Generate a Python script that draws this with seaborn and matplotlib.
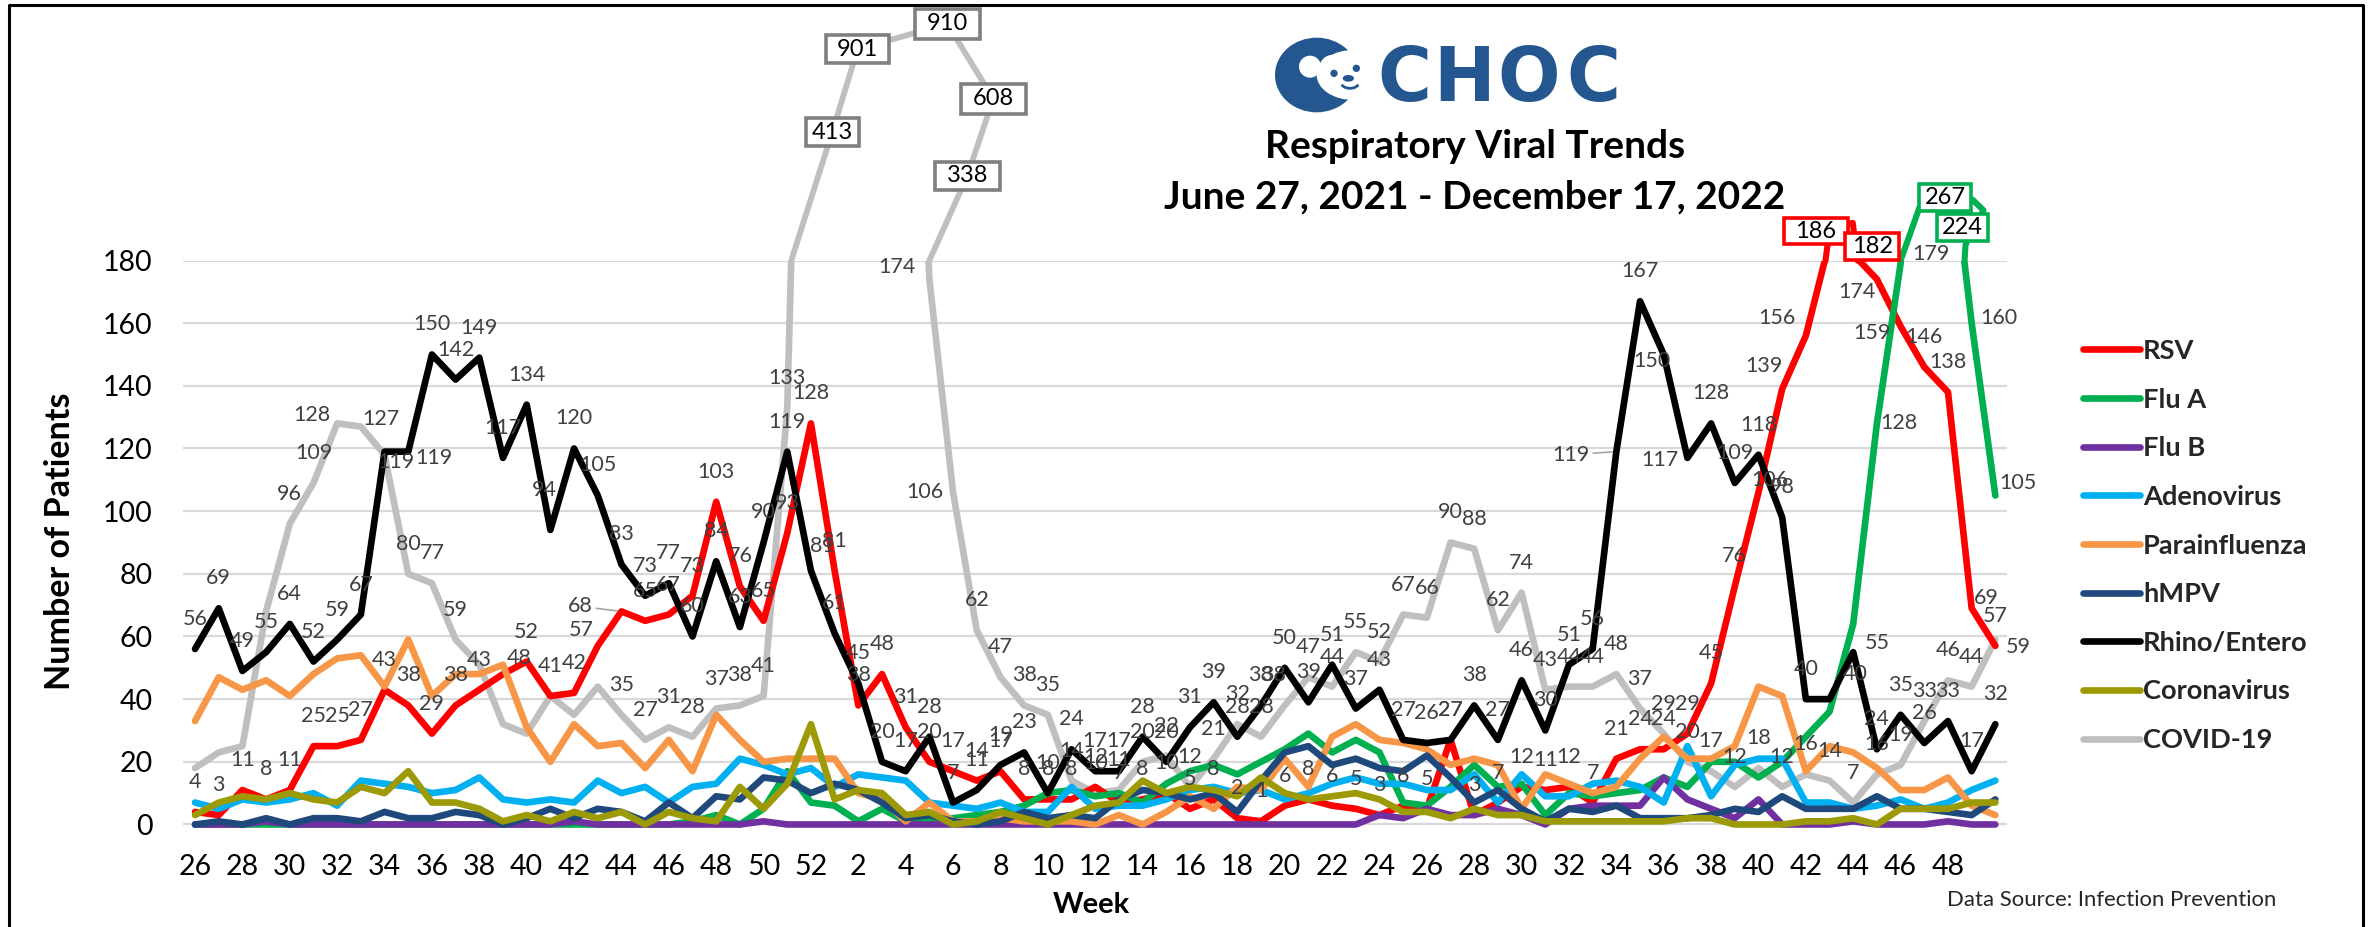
import matplotlib

matplotlib.use("Agg")

import matplotlib.pyplot as plt
import pandas as pd
import seaborn as sns
from matplotlib.lines import Line2D
from matplotlib.patches import Arc, Circle, Ellipse, Rectangle

# weeks run 26..52 of 2021 then 1..50 of 2022
WEEKS = list(range(26, 53)) + list(range(1, 51))

RSV = [4, 3, 11, 8, 11, 25, 25, 27, 43, 38, 29, 38, 43, 48, 52, 41, 42, 57, 68, 65, 67, 73, 103, 76, 65, 93, 128,
       81, 38, 48, 31, 20, 17, 14, 17, 8, 8, 8, 12, 7, 8, 10, 5, 8, 2, 1, 6,
       8, 6, 5, 3, 6, 5, 27, 3, 7, 12, 11, 12, 7, 21, 24, 24, 29, 45, 76, 106,
       139, 156, 186, 182, 174, 159, 146, 138, 69, 57]
FLU_A = [0, 0, 0, 0, 0, 0, 0, 0, 0, 0, 0, 0, 0, 0, 0, 0, 0, 0, 0, 0, 0, 1, 3, 0, 5, 17, 7,
         6, 1, 5, 1, 1, 2, 3, 4, 6, 10, 11, 9, 10, 7, 13, 17, 19, 16, 20, 24,
         29, 23, 27, 23, 7, 6, 12, 19, 12, 13, 3, 10, 9, 10, 11, 15, 12, 20, 20, 15,
         20, 28, 36, 64, 128, 179, 267, 224, 160, 105]
FLU_B = [0, 0, 0, 1, 0, 0, 0, 0, 0, 0, 0, 0, 0, 0, 0, 0, 1, 0, 0, 0, 0, 0, 0, 0, 1, 0, 0,
         0, 0, 0, 0, 0, 0, 0, 0, 0, 0, 0, 0, 0, 0, 0, 0, 0, 0, 0, 0,
         0, 0, 0, 3, 2, 5, 3, 3, 5, 3, 0, 5, 6, 6, 6, 15, 8, 5, 2, 8,
         0, 0, 0, 1, 0, 0, 0, 1, 0, 0]
ADENO = [7, 5, 8, 7, 8, 10, 6, 14, 13, 12, 10, 11, 15, 8, 7, 8, 7, 14, 10, 12, 7, 12, 13, 21, 19, 16, 18,
         12, 16, 15, 14, 7, 6, 5, 7, 4, 4, 12, 5, 6, 6, 8, 11, 12, 10, 11, 8,
         10, 13, 15, 13, 13, 11, 11, 16, 7, 16, 9, 9, 13, 14, 12, 7, 25, 9, 19, 21,
         21, 7, 7, 5, 6, 8, 5, 7, 11, 14]
PARA = [33, 47, 43, 46, 41, 48, 53, 54, 44, 59, 41, 48, 48, 51, 31, 20, 32, 25, 26, 18, 27, 17, 35, 27, 20, 21, 21,
        21, 10, 8, 1, 7, 1, 1, 2, 1, 1, 1, 0, 3, 0, 4, 9, 5, 12, 11, 21,
        12, 28, 32, 27, 26, 24, 19, 21, 19, 5, 16, 13, 10, 12, 21, 28, 21, 21, 25, 44,
        41, 17, 25, 23, 18, 11, 11, 15, 6, 3]
HMPV = [0, 1, 0, 2, 0, 2, 2, 1, 4, 2, 2, 4, 3, 0, 2, 5, 2, 5, 4, 1, 7, 2, 9, 8, 15, 14, 10,
        13, 11, 7, 2, 3, 1, 0, 1, 4, 2, 3, 2, 8, 11, 10, 8, 10, 4, 14, 23,
        25, 19, 21, 18, 17, 22, 15, 7, 11, 5, 1, 5, 4, 6, 2, 2, 2, 3, 5, 4,
        9, 5, 5, 5, 9, 5, 5, 4, 3, 8]
RHINO = [56, 69, 49, 55, 64, 52, 59, 67, 119, 119, 150, 142, 149, 117, 134, 94, 120, 105, 83, 73, 77, 60, 84, 63, 90, 119, 81,
         61, 45, 20, 17, 28, 7, 11, 19, 23, 10, 24, 17, 17, 28, 20, 31, 39, 28, 38, 50,
         39, 51, 37, 43, 27, 26, 27, 38, 27, 46, 30, 51, 56, 119, 167, 150, 117, 128, 109, 118,
         98, 40, 40, 55, 24, 35, 26, 33, 17, 32]
CORONA = [3, 7, 9, 8, 10, 8, 7, 12, 10, 17, 7, 7, 5, 1, 3, 1, 4, 2, 4, 0, 4, 2, 1, 12, 5, 13, 32,
          8, 11, 10, 3, 4, 0, 1, 4, 2, 0, 3, 6, 7, 14, 10, 12, 11, 9, 15, 10,
          8, 9, 10, 8, 4, 4, 2, 5, 3, 3, 1, 1, 1, 1, 1, 1, 2, 2, 0, 0,
          0, 1, 1, 2, 0, 5, 5, 5, 7, 7]
COVID = [18, 23, 25, 68, 96, 109, 128, 127, 118, 80, 77, 59, 51, 32, 29, 41, 35, 44, 35, 27, 31, 28, 37, 38, 41, 133, 413,
         901, 910, 608, 338, 174, 106, 62, 47, 38, 35, 14, 10, 11, 20, 22, 12, 21, 32, 28, 38,
         47, 44, 55, 52, 67, 66, 90, 88, 62, 74, 43, 44, 44, 48, 37, 29, 20, 17, 12, 18,
         12, 16, 14, 7, 16, 19, 33, 46, 44, 59]

LEGEND_ORDER = ["RSV", "Flu A", "Flu B", "Adenovirus", "Parainfluenza", "hMPV", "Rhino/Entero", "Coronavirus", "COVID-19"]
DRAW_ORDER = ["COVID-19", "RSV", "Flu A", "Flu B", "Adenovirus", "Parainfluenza", "hMPV", "Rhino/Entero", "Coronavirus"]
COLORS = {
    "RSV": "#FF0000",
    "Flu A": "#00B050",
    "Flu B": "#7030A0",
    "Adenovirus": "#00B0F0",
    "Parainfluenza": "#F79646",
    "hMPV": "#1F497D",
    "Rhino/Entero": "#000000",
    "Coronavirus": "#9C9A06",
    "COVID-19": "#BFBFBF",
}
SERIES = {
    "RSV": RSV, "Flu A": FLU_A, "Flu B": FLU_B, "Adenovirus": ADENO, "Parainfluenza": PARA,
    "hMPV": HMPV, "Rhino/Entero": RHINO, "Coronavirus": CORONA, "COVID-19": COVID,
}

# labels sit 30px above their point, except these (dx, dy in px)
RSV_SHIFT = {13: (16, 16), 17: (-16, 16), 18: (-41, 5), 66: (11, 12), 67: (-18, 23), 68: (-29, 18),
             71: (-20, -13), 72: (-29, -7), 75: (15, 10)}
RHINO_SHIFT = {8: (11, -10), 9: (26, -6), 15: (-6, 40), 26: (11, 25), 60: (-45, -3), 62: (-12, -7),
               63: (-27, -2), 69: (26, 25), 70: (24, 9)}
COVID_SHIFT = {6: (-25, 8), 7: (20, 8), 31: (-32, 12), 32: (-28, 0), 46: (-11, 30), 76: (23, -7)}
COVID_NO_LABEL = [0, 1, 2, 3, 8, 12, 13, 14, 15, 16, 17, 26, 27, 28, 29, 30]
FLU_A_SHIFT = {71: (22, 0), 72: (30, 10), 75: (27, 5), 76: (23, 12)}
LEADERS = [("RSV", 18), ("Rhino/Entero", 60)]

# the peaks run off the 180 scale, the original shows them as hand drawn lines with boxed values
COVID_PEAK_X = [25.17, 26.9, 27.97, 31.76, 33.7, 32.6, 31.0]
COVID_PEAK_Y = [180, 221, 247.5, 255.5, 231.6, 207, 180]
RSV_PEAK_X = [68.83, 69.0, 69.98, 70.18]
RSV_PEAK_Y = [180, 190, 192, 180]
FLU_A_PEAK_X = [72.0, 72.8, 75.04, 75.5, 74.74, 74.7]
FLU_A_PEAK_Y = [180, 197, 199.4, 196, 185, 180]

# value, x, y, box width px, box height px, edge colour
BOXES = [
    ("413", 26.9, 221, 53, 28, "#7F7F7F"),
    ("901", 27.97, 247.5, 63, 28, "#7F7F7F"),
    ("910", 31.76, 255.5, 65, 30, "#7F7F7F"),
    ("608", 33.7, 231.6, 65, 30, "#7F7F7F"),
    ("338", 32.6, 207, 65, 28, "#7F7F7F"),
    ("186", 68.43, 189.4, 64, 26, "#FF0000"),
    ("182", 70.8, 184.6, 54, 27, "#FF0000"),
    ("267", 73.87, 200, 52, 27, "#00B050"),
    ("224", 74.6, 190.5, 51, 27, "#00B050"),
]

# logo wordmark, each letter placed on its own to get the wide spacing
LOGO_LETTERS = ["C", "H", "O", "C"]
LOGO_LETTER_X = [1404, 1464, 1529, 1593]

LABEL_GRAY = "#404040"
LOGO_BLUE = "#24568F"
W, H = 2376, 927
AX_LEFT, AX_RIGHT, AX_TOP, AX_BOTTOM = 183.2, 2007.2, 260.5, 837.0


def draw_labels(ax, name, shifts, skip=()):
    values = SERIES[name]
    for i, value in enumerate(values):
        if value > 180 or i in skip:
            continue
        dx, dy = shifts.get(i, (0, 30))
        props = None
        if (name, i) in LEADERS:
            props = dict(arrowstyle="-", color="#A6A6A6", lw=1.2, shrinkA=0, shrinkB=3)
        ax.annotate(str(value), (i, value), xytext=(dx, dy), textcoords="offset pixels",
                    ha="center", va="center", fontsize=15.5, color=LABEL_GRAY,
                    annotation_clip=False, zorder=6, arrowprops=props)


def draw_logo(bg):
    # zoomed logo coordinates were 3x, origin at 1260,25
    def px(x, y):
        return 1260 + x / 3, 25 + y / 3

    bg.add_patch(Ellipse(px(170, 150), 250 / 3, 224 / 3, color=LOGO_BLUE, lw=0))
    bg.add_patch(Ellipse(px(280, 150), 220 / 3, 150 / 3, color="white", lw=0))
    bg.add_patch(Circle(px(150, 125), 33 / 3, color="white", lw=0))
    bg.add_patch(Ellipse(px(215, 140), 80 / 3, 100 / 3, color="white", lw=0))
    bg.add_patch(Circle(px(222, 145), 11 / 3, color=LOGO_BLUE, lw=0))
    bg.add_patch(Circle(px(289, 130), 11 / 3, color=LOGO_BLUE, lw=0))
    bg.add_patch(Ellipse(px(265, 160), 34 / 3, 20 / 3, color=LOGO_BLUE, lw=0))
    bg.add_patch(Arc(px(270, 170), 56 / 3, 40 / 3, theta1=20, theta2=160, color=LOGO_BLUE, lw=2))
    for letter, x in zip(LOGO_LETTERS, LOGO_LETTER_X):
        bg.text(x, 101, letter, fontsize=53, fontweight="bold", color=LOGO_BLUE,
                family="DejaVu Sans", ha="center", va="baseline")


def main():
    sns.set_theme(style="white")
    plt.rcParams["font.family"] = ["Lato", "DejaVu Sans"]

    fig = plt.figure(figsize=(W / 100, H / 100), dpi=100)

    # full figure layer in pixels for the frame, logo and titles
    bg = fig.add_axes([0, 0, 1, 1], zorder=0)
    bg.set_xlim(0, W)
    bg.set_ylim(H, 0)
    bg.axis("off")
    bg.add_line(Line2D([8.5, 8.5, 2363, 2363], [H, 4.7, 4.7, H], color="black", lw=2.2))
    draw_logo(bg)
    bg.text(1475, 146, "Respiratory Viral Trends", fontsize=28, fontweight="bold",
            color="black", ha="center", va="center")
    bg.text(1475, 197, "June 27, 2021 - December 17, 2022", fontsize=28, fontweight="bold",
            color="black", ha="center", va="center")
    bg.text(1947, 900, "Data Source: Infection Prevention", fontsize=15.9, color="#262626",
            ha="left", va="center")

    ax = fig.add_axes([AX_LEFT / W, 1 - AX_BOTTOM / H, (AX_RIGHT - AX_LEFT) / W, (AX_BOTTOM - AX_TOP) / H], zorder=1)
    ax.patch.set_alpha(0)

    frame = pd.DataFrame(
        [(name, i, v) for name in DRAW_ORDER for i, v in enumerate(SERIES[name])],
        columns=["virus", "pos", "patients"],
    )
    sns.lineplot(data=frame, x="pos", y="patients", hue="virus", hue_order=DRAW_ORDER, palette=COLORS,
                 estimator=None, errorbar=None, sort=False, lw=4.8, ax=ax, zorder=3,
                 solid_joinstyle="round", solid_capstyle="round")

    ax.set_xlim(-0.5, 76.5)
    ax.set_ylim(-4, 180)
    ax.set_yticks(range(0, 181, 20))
    ax.set_xticks(range(0, 75, 2))
    ax.set_xticklabels([str(WEEKS[i]) for i in range(0, 75, 2)])
    ax.tick_params(axis="both", length=0, labelsize=20.5, labelcolor="black")
    ax.tick_params(axis="y", pad=22)
    ax.tick_params(axis="x", pad=12)
    ax.yaxis.grid(True, color="#D9D9D9", lw=1.6, zorder=0)
    ax.xaxis.grid(False)
    ax.set_axisbelow(True)
    sns.despine(ax=ax, left=True, bottom=True)

    ax.set_ylabel("Number of Patients", fontsize=24.5, fontweight="bold", color="black")
    ax.yaxis.set_label_coords((75.5 - AX_LEFT) / (AX_RIGHT - AX_LEFT), (AX_BOTTOM - 541) / (AX_BOTTOM - AX_TOP))
    ax.set_xlabel("Week", fontsize=21, fontweight="bold", color="black")
    ax.xaxis.set_label_coords(0.498, (AX_BOTTOM - 905) / (AX_BOTTOM - AX_TOP))
    ax.xaxis.label.set_va("center")

    ax.plot(COVID_PEAK_X, COVID_PEAK_Y, color=COLORS["COVID-19"], lw=4.2, clip_on=False, zorder=3,
            solid_joinstyle="round")
    ax.plot(RSV_PEAK_X, RSV_PEAK_Y, color=COLORS["RSV"], lw=4.4, clip_on=False, zorder=3)
    ax.plot(FLU_A_PEAK_X, FLU_A_PEAK_Y, color=COLORS["Flu A"], lw=4.4, clip_on=False, zorder=3)

    draw_labels(ax, "RSV", RSV_SHIFT)
    draw_labels(ax, "Rhino/Entero", RHINO_SHIFT)
    draw_labels(ax, "COVID-19", COVID_SHIFT, COVID_NO_LABEL)
    flu_skip = [i for i in range(len(FLU_A)) if i not in FLU_A_SHIFT]
    draw_labels(ax, "Flu A", FLU_A_SHIFT, flu_skip)

    # 23.69 px per week and 3.133 px per patient on this axis
    for text, x, y, box_w, box_h, edge in BOXES:
        ax.add_patch(Rectangle((x - box_w / 23.69 / 2, y - box_h / 3.133 / 2), box_w / 23.69, box_h / 3.133,
                               facecolor="white", edgecolor=edge, lw=2.6, clip_on=False, zorder=7))
        ax.text(x, y, text, fontsize=17, color="black", ha="center", va="center", zorder=8, clip_on=False)

    handles, labels = ax.get_legend_handles_labels()
    by_label = dict(zip(labels, handles))
    ax.legend(
        [by_label[name] for name in LEGEND_ORDER], LEGEND_ORDER,
        loc="upper left", bbox_to_anchor=(2083 / W, 1 - 339 / H), bbox_transform=fig.transFigure,
        frameon=False, borderpad=0, borderaxespad=0, handlelength=2.1, handletextpad=0.11,
        labelspacing=0.905, prop={"size": 19.6, "weight": "bold"},
    )

    fig.savefig("out.png", dpi=100)
    plt.close(fig)


if __name__ == "__main__":
    main()
